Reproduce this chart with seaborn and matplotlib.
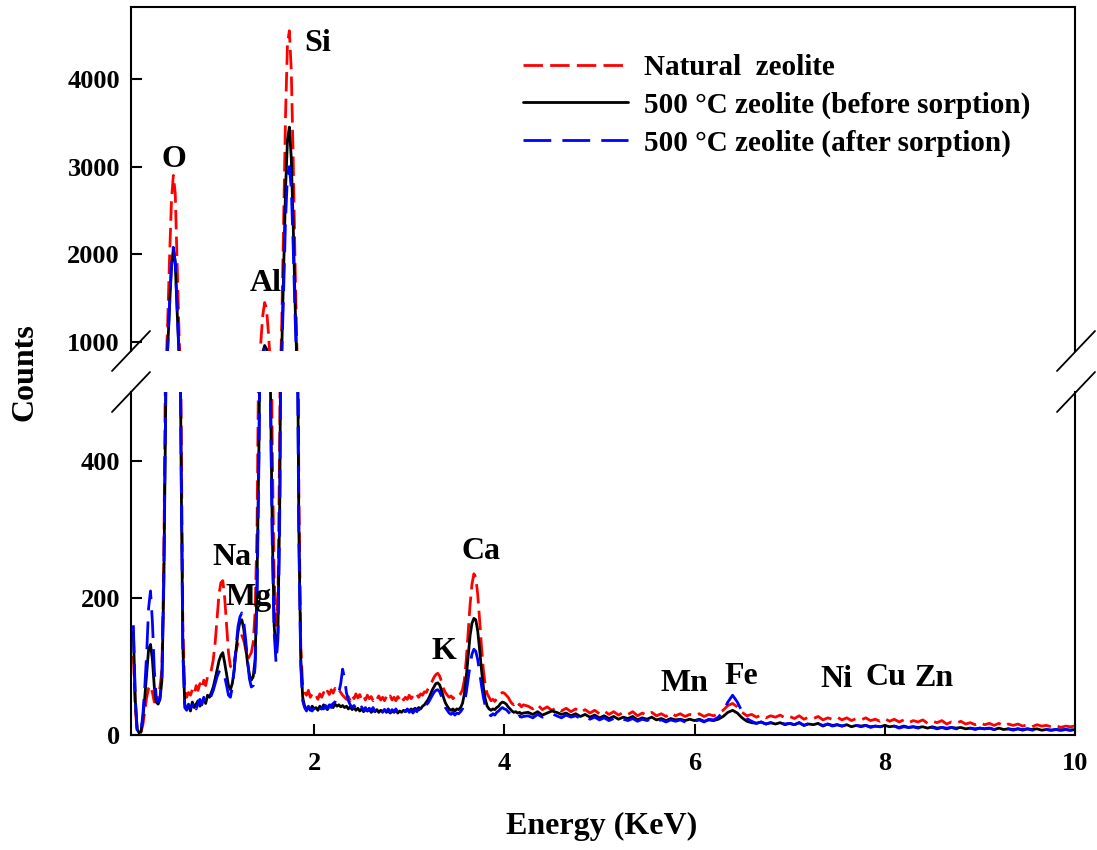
import numpy as np
import pandas as pd
import matplotlib
matplotlib.use("Agg")
import matplotlib.pyplot as plt
from matplotlib.lines import Line2D
import seaborn as sns

# ---------------- data ----------------
energy = np.round(np.concatenate([
    np.arange(0.10, 2.001, 0.02),   # 96 points
    np.arange(2.02, 4.201, 0.02),   # 110 points
    np.arange(4.25, 10.001, 0.05),  # 116 points
]), 3)

natural = [
    115, 40, 5, 2, 4, 15, 35, 55, 68, 72,
    62, 48, 50, 58, 70, 95, 250, 600, 1200, 1950,
    2600, 2900, 2700, 1900, 1100, 500, 160, 65, 55, 62,
    58, 66, 60, 72, 65, 75, 68, 80, 72, 85,
    88, 95, 110, 135, 170, 205, 222, 225, 200, 160,
    120, 100, 98, 108, 122, 135, 142, 145, 138, 125,
    110, 115, 120, 135, 180, 300, 600, 1000, 1300, 1450,
    1380, 1100, 750, 420, 230, 160, 200, 450, 1200, 2400,
    3600, 4400, 4550, 4100, 3100, 1900, 900, 350, 130, 72,
    62, 58, 65, 55, 60, 56,
    # 2.02 - 4.20
    58, 52, 60, 55, 62, 57, 64, 59, 66, 61,
    68, 63, 66, 62, 58, 55, 52, 56, 50, 58,
    53, 60, 54, 59, 52, 57, 51, 58, 53, 56,
    50, 55, 52, 57, 51, 55, 50, 56, 52, 57,
    51, 55, 50, 56, 52, 57, 51, 55, 52, 58,
    53, 57, 54, 59, 55, 60, 58, 63, 62, 68,
    72, 78, 84, 88, 90, 86, 78, 68, 62, 58,
    55, 57, 53, 56, 54, 58, 60, 66, 80, 110,
    150, 190, 220, 235, 230, 205, 168, 128, 95, 72,
    60, 55, 50, 52, 49, 53, 56, 60, 62, 61,
    58, 55, 50, 46, 44, 47, 42, 45, 41, 44,
    # 4.25 - 10.00
    42, 38, 44, 37, 41, 36, 40, 35, 39, 34, 38, 33, 37, 32, 36,
    31, 35, 30, 34, 29, 33, 30, 34, 28, 32, 29, 33, 28, 31, 27, 32, 28, 31, 27, 30,
    28, 31, 27, 30, 28, 31, 36, 43, 46, 41, 33, 28, 30, 26, 29, 25, 28, 26, 29, 25,
    27, 24, 28, 23, 26, 24, 27, 22, 25, 23, 26, 22, 25, 21, 24, 22, 25, 21, 23, 20,
    24, 20, 23, 19, 22, 18, 21, 19, 22, 17, 20, 18, 21, 16, 19, 17, 20, 16, 18, 15,
    18, 15, 17, 14, 17, 13, 16, 14, 16, 13, 15, 12, 15, 13, 14, 12, 14, 11, 13, 12, 13,
]

before = [
    150, 50, 8, 3, 5, 25, 55, 90, 125, 132,
    110, 70, 48, 45, 52, 80, 220, 480, 900, 1400,
    1850, 2060, 1900, 1350, 850, 420, 130, 45, 38, 42,
    35, 48, 40, 45, 50, 42, 48, 52, 46, 58,
    55, 62, 70, 82, 95, 108, 116, 120, 105, 88,
    72, 66, 75, 95, 125, 150, 165, 168, 155, 130,
    105, 88, 80, 85, 110, 220, 420, 700, 880, 960,
    920, 760, 520, 300, 160, 120, 150, 350, 900, 1800,
    2750, 3300, 3450, 3100, 2350, 1450, 700, 300, 110, 55,
    42, 38, 40, 36, 42, 38,
    # 2.02 - 4.20
    40, 36, 42, 38, 44, 40, 37, 42, 44, 40,
    45, 42, 44, 41, 43, 40, 42, 38, 41, 37,
    40, 36, 39, 35, 38, 34, 37, 35, 38, 33,
    36, 34, 37, 33, 36, 34, 37, 33, 35, 32,
    35, 33, 36, 32, 35, 33, 36, 34, 37, 35,
    38, 36, 39, 37, 40, 38, 42, 44, 48, 52,
    58, 65, 70, 75, 76, 73, 65, 55, 47, 42,
    38, 36, 38, 35, 38, 37, 40, 46, 60, 85,
    115, 145, 163, 170, 168, 152, 125, 95, 70, 52,
    42, 38, 36, 38, 37, 40, 42, 46, 48, 47,
    45, 41, 38, 35, 33, 34, 32, 33, 31, 32,
    # 4.25 - 10.00
    33, 30, 34, 29, 32, 35, 33, 30, 32, 28, 31, 27, 30, 26, 29,
    25, 28, 24, 27, 23, 26, 24, 27, 22, 25, 23, 26, 22, 24, 21, 24, 22, 23, 21, 23,
    21, 23, 20, 22, 21, 23, 27, 33, 36, 32, 25, 20, 18, 17, 19, 16, 18, 16, 18, 15,
    17, 15, 18, 14, 16, 15, 17, 13, 16, 14, 15, 13, 15, 12, 14, 13, 14, 12, 13, 12,
    14, 12, 13, 11, 13, 11, 12, 11, 12, 10, 12, 10, 11, 9, 11, 10, 11, 9, 10, 9,
    10, 9, 10, 8, 10, 8, 9, 8, 9, 7, 9, 8, 9, 7, 8, 7, 8, 7, 8, 7, 8,
]

after = [
    160, 55, 6, 2, 5, 30, 70, 120, 185, 210,
    165, 95, 55, 48, 55, 85, 230, 500, 920, 1420,
    1870, 2080, 1920, 1380, 870, 430, 120, 40, 36, 45,
    40, 42, 50, 38, 46, 52, 44, 55, 48, 52,
    50, 58, 65, 75, 85, 92, 95, 93, 85, 72,
    58, 55, 70, 95, 130, 158, 172, 178, 165, 140,
    110, 82, 70, 72, 100, 200, 400, 680, 860, 940,
    900, 740, 500, 280, 150, 105, 140, 330, 850, 1600,
    2400, 2900, 3000, 2750, 2100, 1300, 650, 280, 100, 50,
    40, 35, 42, 38, 35, 40,
    # 2.02 - 4.20
    38, 42, 36, 40, 38, 43, 39, 44, 40, 46,
    48, 55, 62, 75, 96, 82, 62, 50, 44, 40,
    43, 38, 42, 37, 41, 36, 40, 35, 39, 36,
    40, 34, 38, 35, 39, 33, 37, 34, 38, 33,
    37, 34, 38, 33, 36, 32, 37, 34, 38, 33,
    36, 32, 37, 34, 38, 35, 40, 38, 44, 47,
    52, 57, 62, 65, 66, 63, 56, 47, 40, 36,
    32, 30, 33, 29, 32, 31, 34, 38, 46, 62,
    82, 102, 118, 125, 122, 110, 92, 72, 55, 42,
    34, 30, 28, 31, 29, 33, 35, 38, 40, 38,
    37, 34, 31, 29, 27, 29, 26, 28, 26, 27,
    # 4.25 - 10.00
    28, 25, 30, 26, 29, 31, 28, 25, 29, 26, 28, 24, 27, 23, 26,
    22, 25, 21, 24, 20, 23, 21, 24, 20, 23, 21, 24, 20, 22, 19, 22, 20, 22, 19, 21,
    20, 22, 19, 23, 22, 26, 34, 48, 58, 48, 34, 24, 20, 17, 19, 16, 18, 15, 18, 16,
    17, 15, 18, 14, 17, 15, 16, 14, 16, 13, 15, 13, 15, 12, 14, 12, 14, 11, 13, 12,
    13, 11, 13, 10, 12, 11, 12, 10, 12, 10, 11, 9, 11, 10, 11, 9, 10, 9, 10, 8,
    10, 9, 10, 8, 9, 8, 9, 7, 9, 8, 9, 7, 8, 7, 8, 7, 8, 7, 8, 7, 8,
]

series_names = ["Natural  zeolite", "500 \u00b0C zeolite (before sorption)",
                "500 \u00b0C zeolite (after sorption)"]
series_values = [natural, before, after]

upper_labels = ["O", "Al", "Si"]
upper_label_x = [0.526, 1.495, 2.04]
upper_label_y = [3076, 1662, 4399]
lower_labels = ["Na", "Mg", "K", "Ca", "Mn", "Fe", "Ni", "Cu", "Zn"]
lower_label_x = [1.137, 1.316, 3.36, 3.76, 5.89, 6.49, 7.49, 8.01, 8.52]
lower_label_y = [259, 200, 122, 267, 75, 85, 81, 84, 83]

x_ticks = [2, 4, 6, 8, 10]
upper_ticks = [1000, 2000, 3000, 4000]
lower_ticks = [0, 200, 400]

# ---------------- styling ----------------
sns.set_style("ticks")
plt.rcParams["font.family"] = ["Liberation Serif", "DejaVu Serif"]
plt.rcParams["font.weight"] = "bold"
plt.rcParams["axes.linewidth"] = 1.5
for k in ["text.color", "axes.labelcolor", "xtick.color", "ytick.color",
          "axes.edgecolor"]:
    plt.rcParams[k] = "black"

colors = ["#ff0000", "#000000", "#0000ff"]
styles = [(0, (7, 2.6)), "-", (0, (10, 4))]
lw = 2.0

W, H = 1097, 850
fig = plt.figure(figsize=(W / 100, H / 100), dpi=100)
left, right = 131 / W, 1075 / W
ax_up = fig.add_axes([left, 1 - 351 / H, right - left, (351 - 7) / H])
ax_lo = fig.add_axes([left, 1 - 735 / H, right - left, (735 - 392) / H])

for ax in (ax_up, ax_lo):
    for name, vals, c, ls in zip(series_names, series_values, colors, styles):
        df = pd.DataFrame({"Energy": energy, "Counts": vals})
        sns.lineplot(data=df, x="Energy", y="Counts", ax=ax, color=c,
                     linestyle=ls, linewidth=lw, label=name,
                     estimator=None, sort=False, legend=False)
    ax.set_xlim(0.075, 10)
    ax.set_xlabel("")
    ax.set_ylabel("")
    ax.tick_params(direction="in", length=8, width=1.5, labelsize=19, pad=8,
                   colors="black")

ax_up.set_ylim(897, 4821)
ax_up.set_yticks(upper_ticks)
ax_up.spines["bottom"].set_visible(False)
ax_up.tick_params(axis="x", bottom=False, labelbottom=False)
ax_up.set_xticks([])

ax_lo.set_ylim(0, 500)
ax_lo.set_yticks(lower_ticks)
ax_lo.set_xticks(x_ticks)
ax_lo.spines["top"].set_visible(False)
ax_lo.tick_params(axis="x", pad=12)

for ax in (ax_up, ax_lo):
    for lab in ax.get_xticklabels() + ax.get_yticklabels():
        lab.set_fontweight("bold")

for t, x, y in zip(upper_labels, upper_label_x, upper_label_y):
    ax_up.text(x, y, t, ha="center", va="center", fontsize=23, fontweight="bold")
for t, x, y in zip(lower_labels, lower_label_x, lower_label_y):
    ax_lo.text(x, y, t, ha="center", va="center", fontsize=23, fontweight="bold")

handles = [Line2D([], [], color=c, linestyle=ls, linewidth=lw)
           for c, ls in zip(colors, styles)]
leg = ax_up.legend(handles, series_names, loc="upper left",
                   bbox_to_anchor=(0.415, 0.862), frameon=False,
                   prop={"family": "Liberation Serif", "weight": "bold", "size": 21},
                   handlelength=3.6, handletextpad=0.55, labelspacing=0.35,
                   borderpad=0, borderaxespad=0)

# break marks
def brk(x1, y1, x2, y2):
    fig.add_artist(Line2D([x1 / W, x2 / W], [1 - y1 / H, 1 - y2 / H],
                          transform=fig.transFigure, color="black", linewidth=1.3))

for xo in (0, 945):
    brk(112 + xo, 371, 150 + xo, 331)
    brk(112 + xo, 412, 150 + xo, 372)

fig.text(25 / W, 1 - 372 / H, "Counts", rotation=90, ha="center", va="center",
         fontsize=23, fontweight="bold")
fig.text(602 / W, 1 - 826 / H, "Energy (KeV)", ha="center", va="center",
         fontsize=23, fontweight="bold")

fig.savefig("out.png", dpi=100)
